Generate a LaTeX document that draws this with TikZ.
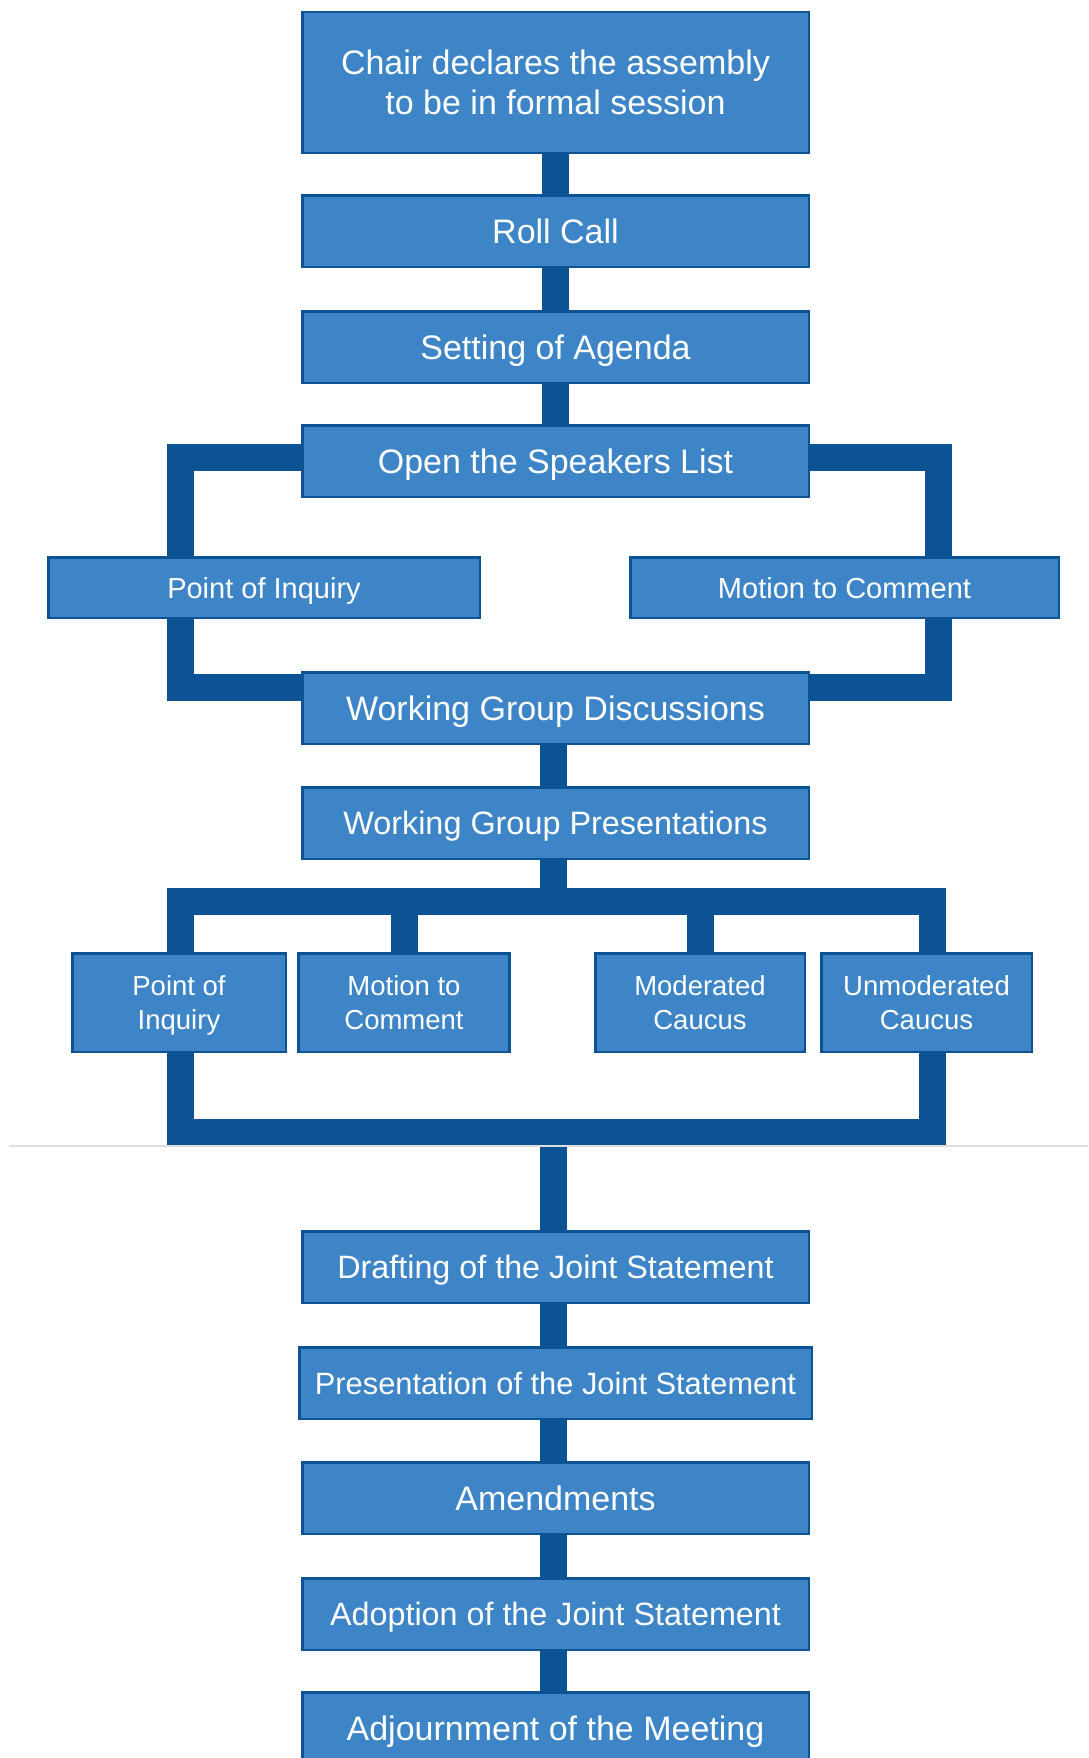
\documentclass[tikz,border=0pt]{standalone}
\usepackage{fontspec}
\setmainfont{Liberation Sans}
\usetikzlibrary{backgrounds}
\definecolor{boxfill}{HTML}{3D85C6}
\definecolor{boxline}{HTML}{0B5394}
\definecolor{connline}{HTML}{0B5394}
\begin{document}
\begin{tikzpicture}[x=1pt,y=-1pt,
  box/.style={rectangle, draw=boxline, fill=boxfill, line width=2.5pt, text=white,
    align=center, inner sep=0pt, minimum width=506.5pt, minimum height=71.5pt,
    text depth=0pt, font=\fontsize{34}{40}\selectfont},
  sidebox/.style={box, minimum width=431.5pt, minimum height=60.5pt, font=\fontsize{29}{34}\selectfont},
  smallbox/.style={box, minimum width=211pt, minimum height=98.5pt, font=\fontsize{27.5}{34}\selectfont},
  conn/.style={draw=connline, line width=27pt, line join=miter}]
\useasboundingbox (0,0) rectangle (1088,1758);
\clip (0,0) rectangle (1088,1758);

% main column
\node[box, minimum height=140.5pt] (chair) at (555.5,82.5) {Chair declares the assembly\\to be in formal session};
\node[box] (roll) at (555.5,231) {Roll Call};
\node[box] (agenda) at (555.5,347) {Setting of Agenda};
\node[box] (osl) at (555.5,461) {Open the Speakers List};
\node[sidebox] (poi1) at (264,587.5) {Point of Inquiry};
\node[sidebox, minimum width=428.5pt] (mtc1) at (844.5,587.5) {Motion to Comment};
\node[box] (wgd) at (555.5,708) {Working Group Discussions};
\node[box, font=\fontsize{32.4}{40}\selectfont] (wgp) at (555.5,823) {Working Group Presentations};
\node[smallbox, minimum width=213.5pt] (poi2) at (179,1002.5) {Point of\\Inquiry};
\node[smallbox] (mtc2) at (404,1002.5) {Motion to\\Comment};
\node[smallbox, minimum width=209.5pt] (mod) at (700,1002.5) {Moderated\\Caucus};
\node[smallbox, minimum width=210.5pt] (unmod) at (926.5,1002.5) {Unmoderated\\Caucus};
\node[box, font=\fontsize{32.3}{40}\selectfont] (draft) at (555.5,1267) {Drafting of the Joint Statement};
\node[box, minimum width=512.5pt, font=\fontsize{30.8}{40}\selectfont] (pres) at (555.5,1383) {Presentation of the Joint Statement};
\node[box] (amend) at (555.5,1498) {Amendments};
\node[box, font=\fontsize{32.3}{40}\selectfont] (adopt) at (555.5,1614) {Adoption of the Joint Statement};
\node[box] (adjourn) at (555.5,1728) {Adjournment of the Meeting};

% helper coordinates
\coordinate (lx) at (180,0);
\coordinate (rx) at (938,0);
\coordinate (rx2) at (932,0);
\coordinate (mx) at (553,0);
\coordinate (b1t) at (0,457.5);
\coordinate (b1b) at (0,687.5);
\coordinate (b2t) at (0,901.5);
\coordinate (b2b) at (0,1132);

\begin{scope}[on background layer]
  \draw[conn] (chair.center) -- (roll.center);
  \draw[conn] (roll.center) -- (agenda.center);
  \draw[conn] (agenda.center) -- (osl.center);
  % speakers list bracket
  \draw[conn] (osl.center |- b1t) -| (lx |- poi1.center) |- (wgd.center |- b1b);
  \draw[conn] (osl.center |- b1t) -| (rx |- mtc1.center) |- (wgd.center |- b1b);
  \draw[conn] (mx |- wgd.center) -- (mx |- wgp.center);
  % lower bracket
  \draw[conn] (mx |- wgp.center) -- (mx |- b2t);
  \draw[conn] (lx |- poi2.center) |- (rx2 |- b2t) -- (rx2 |- unmod.center);
  \draw[conn] (lx |- poi2.center) |- (rx2 |- b2b) -- (rx2 |- unmod.center);
  \draw[conn] (mtc2.center |- b2t) -- (mtc2.center);
  \draw[conn] (mod.center |- b2t) -- (mod.center);
  \draw[conn] (mx |- b2b) -- (mx |- draft.center);
  \draw[conn] (mx |- draft.center) -- (mx |- pres.center);
  \draw[conn] (mx |- pres.center) -- (mx |- amend.center);
  \draw[conn] (mx |- amend.center) -- (mx |- adopt.center);
  \draw[conn] (mx |- adopt.center) -- (mx |- adjourn.center);
  \draw[black!13, line width=2pt] (9,1146) -- (1088,1146);
\end{scope}
\end{tikzpicture}
\end{document}
